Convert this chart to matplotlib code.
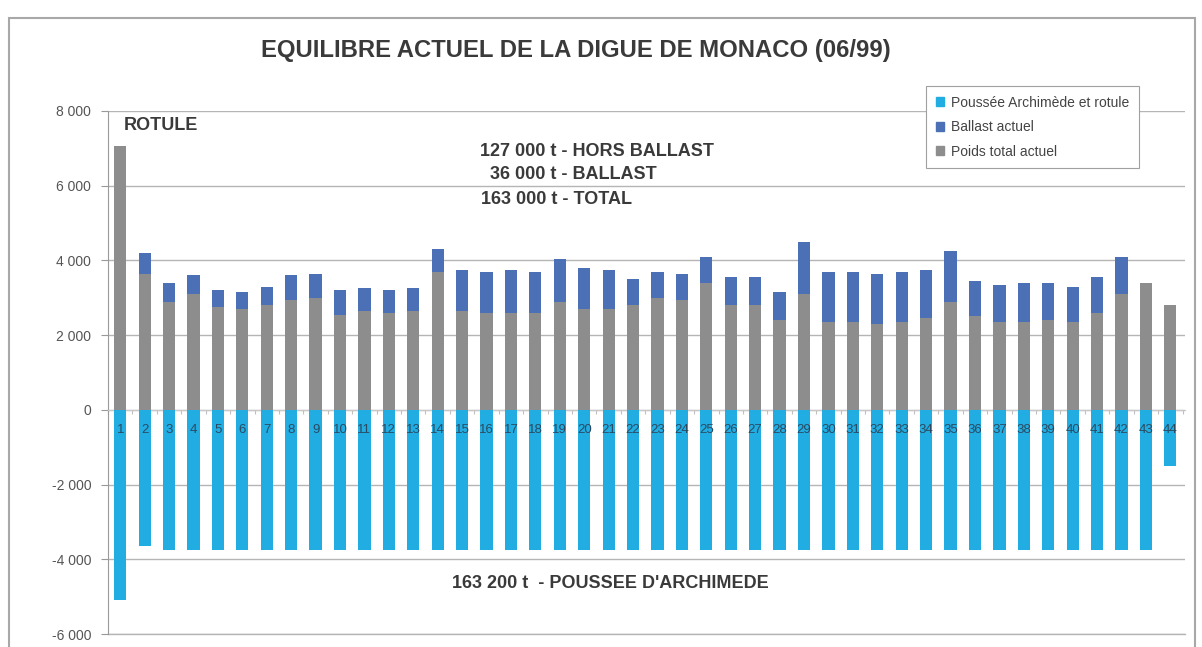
import numpy as np
import matplotlib
matplotlib.use("Agg")
import matplotlib.pyplot as plt
import matplotlib.ticker as mticker
from matplotlib.patches import Rectangle, Patch

plt.rcParams["font.family"] = ["Liberation Sans", "DejaVu Sans"]

# caissons de la digue (1 = rotule)
caissons = list(range(1, 45))

# poids hors ballast (t)
poids = [7050, 3650, 2900, 3100, 2750, 2700, 2800, 2950, 3000, 2550,
         2650, 2600, 2650, 3700, 2650, 2600, 2600, 2600, 2900, 2700,
         2700, 2800, 3000, 2950, 3400, 2800, 2800, 2400, 3100, 2350,
         2350, 2300, 2350, 2450, 2900, 2500, 2350, 2350, 2400, 2350,
         2600, 3100, 3400, 2800]

# ballast actuel (t)
ballast = [0, 550, 500, 500, 450, 450, 500, 650, 650, 650,
           600, 600, 600, 600, 1100, 1100, 1150, 1100, 1150, 1100,
           1050, 700, 700, 700, 700, 750, 750, 750, 1400, 1350,
           1350, 1350, 1350, 1300, 1350, 950, 1000, 1050, 1000, 950,
           950, 1000, 0, 0]

# poussee d'Archimede et rotule (t)
poussee = [-5100, -3650] + [-3750] * 41 + [-1500]

yticks = [-6000, -4000, -2000, 0, 2000, 4000, 6000, 8000]

c_poussee = "#22ade2"
c_ballast = "#4c70b5"
c_poids = "#8d8d8d"
c_text = "#3a3a3a"

fig = plt.figure(figsize=(12.02, 6.47), dpi=100)
ax = fig.add_axes([108 / 1202, 1 - 634 / 647, (1185 - 108) / 1202, (634 - 111) / 647])

x = np.array(caissons)
w = 0.5
ax.bar(x, poussee, width=w, color=c_poussee, zorder=3)
ax.bar(x, poids, width=w, color=c_poids, zorder=3)
ax.bar(x, ballast, width=w, bottom=poids, color=c_ballast, zorder=3)

ax.set_xlim(0.55, 44.6)
ax.set_ylim(-6000, 8000)
ax.set_yticks(yticks)
ax.yaxis.set_major_formatter(
    mticker.FuncFormatter(lambda v, p: f"{int(v):,}".replace(",", " "))
)
ax.tick_params(axis="y", length=5, color="#999999", labelsize=10,
               labelcolor="#555555", pad=7)
ax.grid(axis="y", color="#b5b5b5", linewidth=1.0, zorder=0)
ax.axhline(-6000, color="#b5b5b5", linewidth=1.0, zorder=0, clip_on=False)

# axe des categories sur le zero, petites graduations entre les caissons
ax.spines["bottom"].set_position(("data", 0))
ax.spines["bottom"].set_color("#c8c8c8")
ax.spines["bottom"].set_linewidth(0.8)
ax.set_xticks(np.arange(0.5, 45, 1.0))
ax.set_xticklabels([])
ax.tick_params(axis="x", length=3, color="#c0c0c0", direction="out")
for s in ["top", "right"]:
    ax.spines[s].set_visible(False)
ax.spines["left"].set_color("#9a9a9a")

# numeros des caissons sous l'axe
for xi in caissons:
    ax.text(xi, -530, str(xi), ha="center", va="center", fontsize=9.5,
            color="#2a4a62", zorder=4)

# annotations
bold = dict(fontweight="bold", color=c_text)
ax.text(1.15, 7600, "ROTULE", fontsize=13, ha="left", va="center", **bold)
fig.text(480 / 1202, 1 - 151 / 647, "127 000 t - HORS BALLAST", fontsize=13, ha="left", va="center", **bold)
fig.text(490 / 1202, 1 - 174 / 647, "36 000 t - BALLAST", fontsize=13, ha="left", va="center", **bold)
fig.text(481 / 1202, 1 - 199 / 647, "163 000 t - TOTAL", fontsize=13, ha="left", va="center", **bold)
fig.text(452 / 1202, 1 - 583 / 647, "163 200 t  - POUSSEE D'ARCHIMEDE", fontsize=13, ha="left", va="center", **bold)

fig.text(576 / 1202, 1 - 51 / 647, "EQUILIBRE ACTUEL DE LA DIGUE DE MONACO (06/99)",
         fontsize=17.2, ha="center", va="center", **bold)

handles = [Patch(color=c_poussee), Patch(color=c_ballast), Patch(color=c_poids)]
labels = ["Poussée Archimède et rotule", "Ballast actuel", "Poids total actuel"]
leg = fig.legend(handles, labels, loc="upper left",
                 bbox_to_anchor=(926 / 1202, 1 - 86 / 647),
                 fontsize=10, frameon=True, fancybox=False, handlelength=0.6,
                 handleheight=0.6, handletextpad=0.5, labelspacing=0.75,
                 borderpad=0.7, borderaxespad=0, labelcolor="#444444",
                 framealpha=1)
leg.get_frame().set_edgecolor("#a0a0a0")
leg.get_frame().set_linewidth(0.8)

# cadre du graphique
fig.patches.append(Rectangle((9 / 1202, -0.01), (1195 - 9) / 1202, 1 - 18 / 647 + 0.01,
                             transform=fig.transFigure, fill=False,
                             edgecolor="#a8a8a8", linewidth=1.5))

fig.savefig("out.png", dpi=100)
